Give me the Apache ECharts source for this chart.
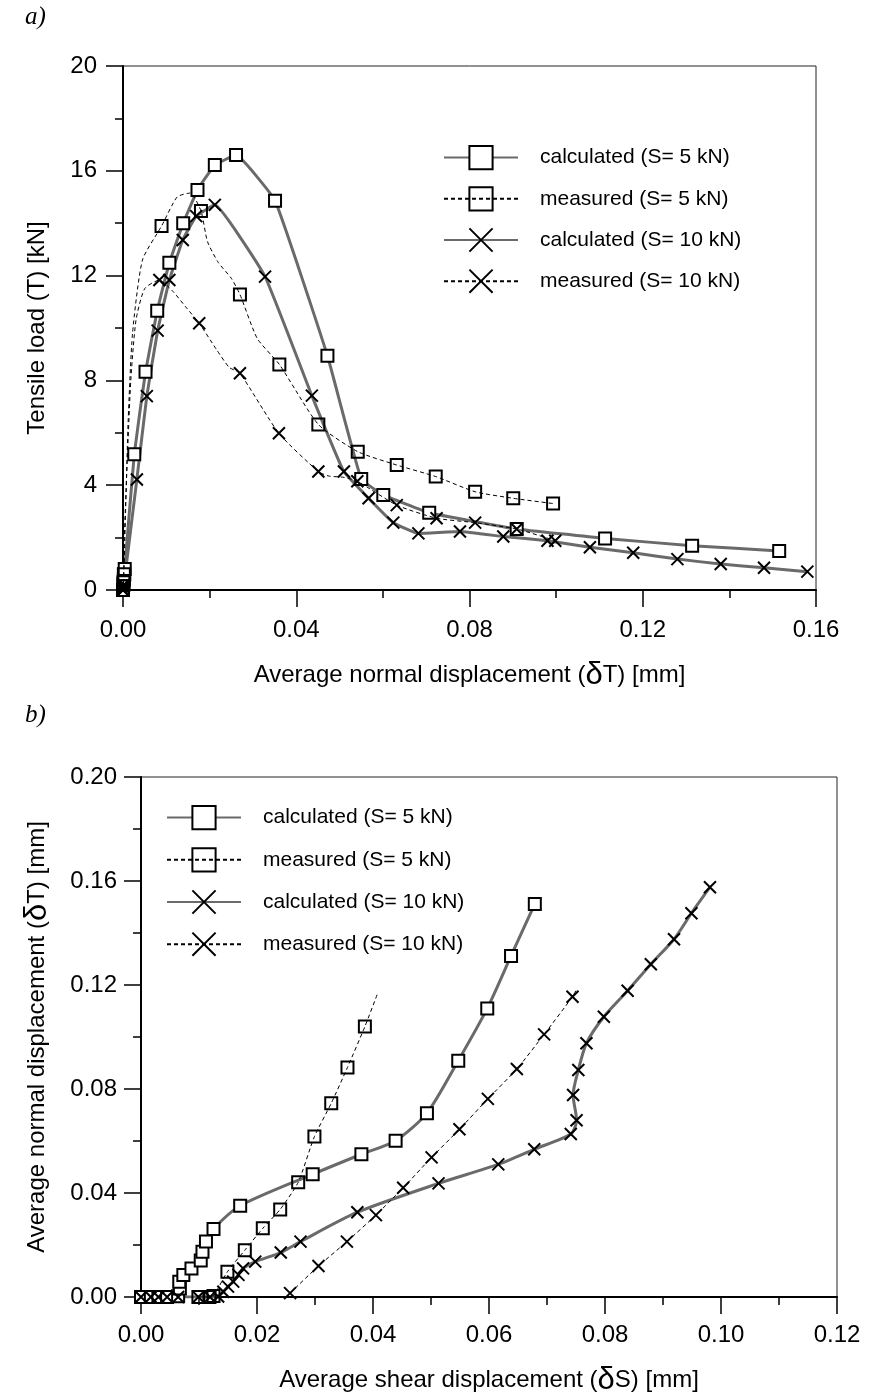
<!DOCTYPE html>
<html>
    <head>
        <meta charset="utf-8">
        <script src="https://cdn.jsdelivr.net/npm/echarts@6/dist/echarts.min.js"></script>
    </head>
    <body style="margin:0">
        <style>
            html, body, #main {
                width: 869px;
                height: 1400px;
                background: #fff;
            }
        </style>
        <div id="main"></div>
        <script>
            // ---- a) tensile load T [kN] vs average normal displacement dT [mm]
            var calc5A = [[0,0],[0.0001,0.2],[0.0002,0.4],[0.0003,0.6],[0.0004,0.8],[0.0026,5.18],[0.0052,8.33],[0.0079,10.66],[0.0107,12.49],[0.0139,14.0],[0.0172,15.27],[0.0212,16.22],[0.0261,16.6],[0.0351,14.86],[0.0472,8.94],[0.055,4.24],[0.0601,3.63],[0.0707,2.95],[0.0909,2.33],[0.1113,1.97],[0.1314,1.69],[0.1515,1.49]];
            var meas5A = [[0,0],[0.0001,0.3],[0.0002,0.6],[0.0089,13.89],[0.018,14.47],[0.027,11.28],[0.0361,8.61],[0.0451,6.32],[0.0542,5.28],[0.0632,4.77],[0.0722,4.33],[0.0813,3.75],[0.0901,3.5],[0.0993,3.3]];
            // extra points
            var meas5ACurve = [[0.0006,3.0],[0.0012,6.5],[0.0022,9.8],[0.0045,12.6],[0.0125,15.0],[0.0155,15.15],[0.0195,13.3],[0.022,12.5],[0.025,11.9],[0.031,9.6]];
            var calc10A = [[0,0],[0.0001,0.1],[0.0002,0.2],[0.0032,4.22],[0.0055,7.4],[0.008,9.9],[0.0107,11.83],[0.0138,13.36],[0.0169,14.27],[0.0212,14.7],[0.0328,11.96],[0.0436,7.42],[0.051,4.52],[0.0567,3.5],[0.0624,2.57],[0.0682,2.16],[0.0778,2.23],[0.0878,2.04],[0.098,1.88],[0.1078,1.63],[0.1178,1.42],[0.128,1.18],[0.138,0.99],[0.148,0.85],[0.158,0.7]];
            var meas10A = [[0,0],[0.0001,0.15],[0.0084,11.83],[0.0176,10.18],[0.027,8.27],[0.036,5.98],[0.0451,4.52],[0.0541,4.15],[0.0632,3.24],[0.0724,2.74],[0.0813,2.57],[0.0909,2.33],[0.0998,1.88]];
            var meas10ACurve = [[0.0003,2.0],[0.001,5.0],[0.0018,8.0],[0.003,10.3],[0.005,11.5],[0.0115,11.4],[0.0145,10.8],[0.0215,9.2],[0.0245,8.5],[0.0475,4.35],[0.051,4.3]];

            // ---- b) average normal displacement dT [mm] vs average shear displacement dS [mm]
            var calc5B = [[0,0],[0.0017,0],[0.003,0],[0.0045,0],[0.0064,0.0003],[0.0067,0.0033],[0.0066,0.0059],[0.0073,0.0085],[0.0087,0.011],[0.0103,0.014],[0.0106,0.0174],[0.0112,0.0213],[0.0125,0.0262],[0.0171,0.0351],[0.0296,0.0472],[0.038,0.0549],[0.0439,0.0601],[0.0493,0.0707],[0.0547,0.0909],[0.0597,0.111],[0.0638,0.1312],[0.0679,0.1512]];
            var meas5B = [[0.0099,0],[0.0118,0],[0.0125,0.0004],[0.0149,0.0097],[0.0179,0.018],[0.021,0.0264],[0.024,0.0337],[0.0271,0.0441],[0.0299,0.0617],[0.0328,0.0745],[0.0356,0.0883],[0.0386,0.104]];
            var meas5BCurve = [[0.0408,0.1168]];
            var calc10B = [[0,0],[0.0017,0],[0.003,0],[0.0045,0],[0.0064,0],[0.0099,0],[0.0119,0],[0.0133,0.0002],[0.0142,0.002],[0.015,0.004],[0.0159,0.0059],[0.0168,0.0085],[0.0176,0.011],[0.0197,0.0136],[0.0241,0.0171],[0.0275,0.0213],[0.0373,0.0326],[0.0513,0.0437],[0.0616,0.051],[0.0678,0.0568],[0.0741,0.0627],[0.0751,0.068],[0.0745,0.0777],[0.0754,0.0873],[0.0768,0.0976],[0.0798,0.1078],[0.0839,0.1178],[0.0879,0.128],[0.0919,0.1376],[0.0949,0.1476],[0.0981,0.1576]];
            var meas10B = [[0.0257,0.0015],[0.0306,0.0119],[0.0355,0.0213],[0.0405,0.0315],[0.0452,0.042],[0.0501,0.0537],[0.0549,0.0645],[0.0598,0.0762],[0.0648,0.0877],[0.0695,0.101],[0.0744,0.1155]];
            var meas10BCurve = [[0.0751,0.1184]];

            var seriesNames = ['calculated (S= 5 kN)', 'measured (S= 5 kN)', 'calculated (S= 10 kN)', 'measured (S= 10 kN)'];

            var FONT = '"Liberation Sans", Arial, sans-serif';
            var CROSS = 'path://M0,0L10,10M10,0L0,10';

            // markers + unmarked trace points, in x order
            function withCurve(marks, curve) {
                var all = marks.map(function (p) { return { value: p }; });
                curve.forEach(function (p) {
                    all.push({ value: p, symbol: 'none' });
                });
                all.sort(function (a, b) { return a.value[0] - b.value[0]; });
                return all;
            }

            function calcSeries(name, data, symbol, idx, smooth) {
                return {
                    name: name,
                    type: 'line',
                    xAxisIndex: idx,
                    yAxisIndex: idx,
                    data: data,
                    smooth: smooth,
                    symbol: symbol,
                    symbolSize: 12,
                    showAllSymbol: true,
                    lineStyle: { color: '#6a6a6a', width: 3 },
                    itemStyle: { color: '#fff', borderColor: '#000', borderWidth: 2 },
                    emphasis: { disabled: true },
                    z: 2
                };
            }

            function measSeries(name, data, symbol, idx) {
                return {
                    name: name,
                    type: 'line',
                    xAxisIndex: idx,
                    yAxisIndex: idx,
                    data: data,
                    smooth: 0.2,
                    symbol: symbol,
                    symbolSize: 12,
                    showAllSymbol: true,
                    lineStyle: { color: '#000', width: 1, type: [4, 3] },
                    itemStyle: { color: 'rgba(255,255,255,0)', borderColor: '#000', borderWidth: 2 },
                    emphasis: { disabled: true },
                    z: 3
                };
            }

            function fmt2(v) { return v.toFixed(2); }

            function valueAxis(idx, min, max, interval, name, nameGap, labelMargin, formatter) {
                return {
                    type: 'value',
                    gridIndex: idx,
                    min: min,
                    max: max,
                    interval: interval,
                    name: name,
                    nameLocation: 'middle',
                    nameGap: nameGap,
                    nameTextStyle: {
                        fontFamily: FONT, fontSize: 24, color: '#000',
                        rich: { d: { fontFamily: FONT, fontSize: 31, color: '#000' } }
                    },
                    axisLine: { show: true, onZero: false, lineStyle: { color: '#000', width: 2 } },
                    axisTick: { show: true, length: 17, lineStyle: { color: '#000', width: 1.5 } },
                    minorTick: { show: true, splitNumber: 2, length: 8, lineStyle: { color: '#000', width: 1.5 } },
                    splitLine: { show: false },
                    axisLabel: {
                        fontFamily: FONT, fontSize: 24, color: '#000',
                        margin: labelMargin, formatter: formatter
                    }
                };
            }

            function legend(left, top, gap) {
                return {
                    show: true,
                    orient: 'vertical',
                    left: left,
                    top: top,
                    padding: 0,
                    itemWidth: 74,
                    itemHeight: 29,
                    itemGap: gap,
                    selectedMode: false,
                    data: seriesNames.slice(),
                    textStyle: { fontFamily: FONT, fontSize: 21, color: '#000', padding: [0, 0, 0, 17] }
                };
            }

            var chart = echarts.init(document.getElementById('main'), null, { renderer: 'canvas' });

            chart.setOption({
                animation: false,
                backgroundColor: '#fff',
                title: [
                    { text: 'a)', left: 20, top: 0, textStyle: { fontFamily: '"Liberation Serif", serif', fontStyle: 'italic', fontWeight: 'normal', fontSize: 25, color: '#000' } },
                    { text: 'b)', left: 20, top: 698, textStyle: { fontFamily: '"Liberation Serif", serif', fontStyle: 'italic', fontWeight: 'normal', fontSize: 25, color: '#000' } }
                ],
                grid: [
                    { left: 123, top: 66, width: 693, height: 524, show: true, borderColor: '#222', borderWidth: 1 },
                    { left: 141, top: 777, width: 696, height: 520, show: true, borderColor: '#222', borderWidth: 1 }
                ],
                xAxis: [
                    valueAxis(0, 0, 0.16, 0.04, 'Average normal displacement ({d|δ}T) [mm]', 70, 28, fmt2),
                    valueAxis(1, 0, 0.12, 0.02, 'Average shear displacement ({d|δ}S) [mm]', 68, 26, fmt2)
                ],
                yAxis: [
                    valueAxis(0, 0, 20, 4, 'Tensile load (T) [kN]', 74, 26, function (v) { return String(v); }),
                    valueAxis(1, 0, 0.2, 0.04, 'Average normal displacement ({d|δ}T) [mm]', 88, 24, fmt2)
                ],
                legend: [
                    legend(443, 145, 16),
                    legend(166, 805, 17)
                ],
                series: [
                    calcSeries(seriesNames[0], calc5A, 'rect', 0, 0.1),
                    calcSeries(seriesNames[2], calc10A, CROSS, 0, 0.1),
                    measSeries(seriesNames[1], withCurve(meas5A, meas5ACurve), 'rect', 0),
                    measSeries(seriesNames[3], withCurve(meas10A, meas10ACurve), CROSS, 0),
                    calcSeries(seriesNames[0], calc5B, 'rect', 1, 0.25),
                    calcSeries(seriesNames[2], calc10B, CROSS, 1, 0.25),
                    measSeries(seriesNames[1], withCurve(meas5B, meas5BCurve), 'rect', 1),
                    measSeries(seriesNames[3], withCurve(meas10B, meas10BCurve), CROSS, 1)
                ]
            });
        </script>
    </body>
</html>
